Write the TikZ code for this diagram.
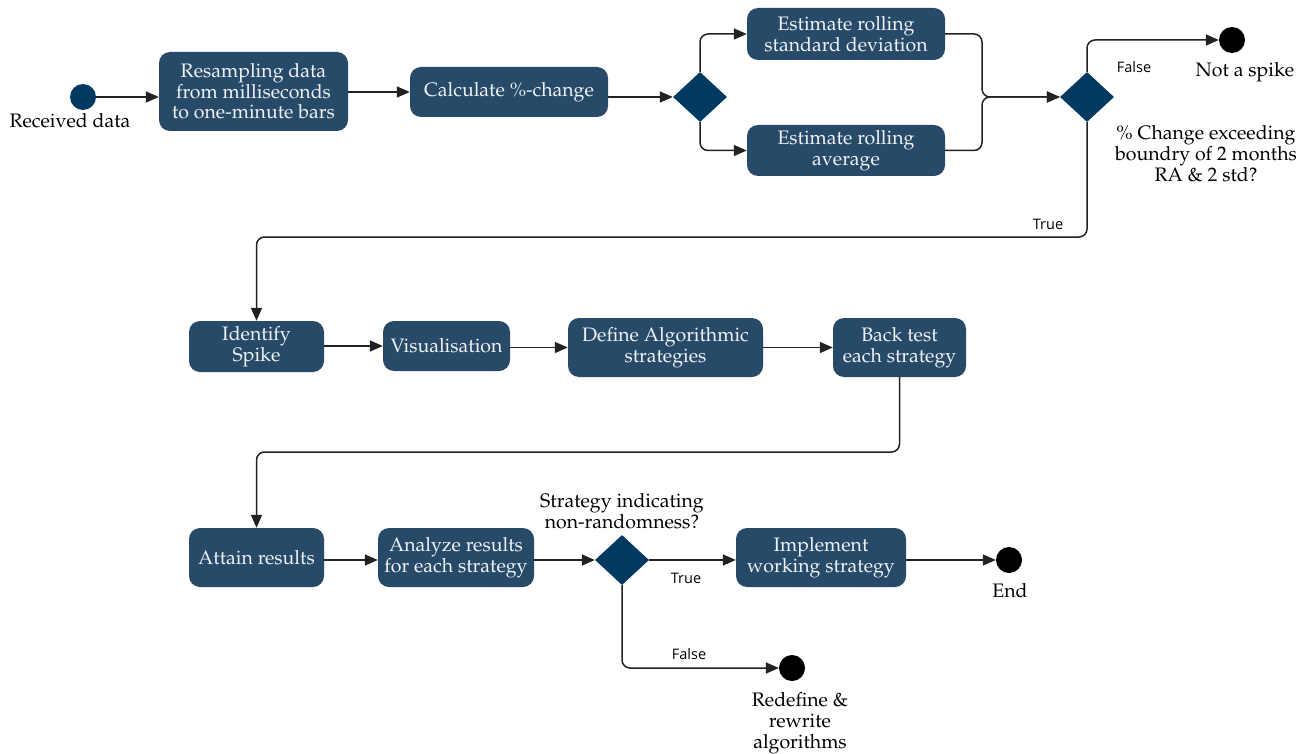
\documentclass[tikz,border=0pt]{standalone}
\usepackage[T1]{fontenc}
\usepackage{fontspec}
\usetikzlibrary{arrows.meta,shapes.geometric,calc}
\newfontfamily\lblfont{Open Sans}
\newcommand\palfont{\fontencoding{T1}\fontfamily{ppl}\selectfont}
\definecolor{boxblue}{HTML}{284A69}
\definecolor{diablue}{HTML}{003A63}
\definecolor{boxtext}{HTML}{EEF2F6}
\definecolor{linec}{HTML}{222222}
\tikzset{
  act/.style={rectangle, rounded corners=11pt, fill=boxblue, text=boxtext, align=center,
    inner sep=2pt, font=\palfont\fontsize{19.5}{20.5}\selectfont},
  dec/.style={diamond, fill=diablue, inner sep=0pt, minimum width=54pt, minimum height=50pt},
  startdot/.style={circle, fill=diablue, inner sep=0pt, minimum size=26pt},
  enddot/.style={circle, fill=black, inner sep=0pt, minimum size=26pt},
  txt/.style={align=center, font=\palfont\fontsize{19.5}{21}\selectfont, inner sep=0pt},
  lbl/.style={font=\lblfont\fontsize{14.5}{16}\selectfont, inner sep=0pt},
  conn/.style={draw=linec, line width=1.5pt, -{Triangle[length=13pt,width=11pt]}, rounded corners=8pt},
}
\begin{document}
\begin{tikzpicture}[x=1pt,y=-1pt]
\useasboundingbox (0,0) rectangle (1313,754);
% row 1
\node[startdot] (start) at (83,97) {};
\node[txt] (rcv) at (70,121) {Received data};
\node[act, minimum width=189pt, minimum height=79pt] (resamp) at (253.5,91.5) {Resampling data\\from milliseconds\\to one-minute bars};
\node[act, minimum width=198pt, minimum height=50pt] (calc) at (509,92) {Calculate \%-change};
\node[dec] (d1) at (700,97) {};
\node[act, minimum width=198pt, minimum height=52pt] (std) at (846,34) {Estimate rolling\\standard deviation};
\node[act, minimum width=198pt, minimum height=51pt] (avg) at (846,150.5) {Estimate rolling\\average};
\coordinate (join) at (982,97);
\node[dec] (d2) at (1087,97) {};
\node[enddot] (nospike) at (1232,40) {};
\node[txt] (nstxt) at (1245,72) {Not a spike};
\node[txt] (q1) at (1206,154) {\% Change exceeding\\boundry of 2 months\\RA \& 2 std?};
\node[lbl] (f1) at (1134,67) {False};
\node[lbl] (t1) at (1048,224) {True};
\coordinate (r1) at (0,237);
% row 2
\node[act, minimum width=135pt, minimum height=51pt] (ident) at (256.5,346.5) {Identify\\Spike};
\node[act, minimum width=127pt, minimum height=50pt] (vis) at (446.5,346) {Visualisation};
\node[act, minimum width=195pt, minimum height=59pt] (def) at (665.5,347.5) {Define Algorithmic\\strategies};
\node[act, minimum width=133pt, minimum height=59pt] (back) at (899.5,347.5) {Back test\\each strategy};
\coordinate (r2) at (0,452);
% row 3
\node[act, minimum width=135pt, minimum height=59pt] (attain) at (256.5,557.5) {Attain results};
\node[act, minimum width=156pt, minimum height=59pt] (anal) at (456,557.5) {Analyze results\\for each strategy};
\node[dec] (d3) at (622,560) {};
\node[txt] (q2) at (622,511) {Strategy indicating\\non-randomness?};
\node[act, minimum width=170pt, minimum height=59pt] (impl) at (821,557.5) {Implement\\working strategy};
\node[enddot] (end) at (1009,560) {};
\node[txt] (endtxt) at (1010,590) {End};
\node[lbl] (t3) at (686,578) {True};
\node[lbl] (f3) at (689,654) {False};
\node[enddot] (redef) at (792,668) {};
\node[txt] (redeftxt) at (800,723) {Redefine \&\\rewrite\\algorithms};
% connectors
\draw[conn] (start) -- (start -| resamp.west);
\draw[conn] (resamp.east |- calc) -- (calc.west);
\draw[conn] (calc.east |- d1) -- (d1.west);
\draw[conn] (d1.north) |- (std.west);
\draw[conn] (d1.south) |- (avg.west);
\draw[conn] (std.east) -| (join) -- (d2.west);
\draw[conn] (avg.east) -| (join) -- (d2.west);
\draw[conn] (d2.north) |- (nospike.west);
\draw[conn] (d2.south) -- (d2.south |- r1) -| (ident.north);
\draw[conn] (ident.east |- vis) -- (vis.west);
\draw[conn] (vis.east |- def) -- (def.west);
\draw[conn] (def.east |- back) -- (back.west);
\draw[conn] (back.south) -- (back.south |- r2) -| (attain.north);
\draw[conn] (attain.east |- d3) -- (anal.west |- d3);
\draw[conn] (anal.east |- d3) -- (d3.west);
\draw[conn] (d3.east) -- (d3 -| impl.west);
\draw[conn] (impl.east |- end) -- (end.west);
\draw[conn] (d3.south) |- (redef.west);
\end{tikzpicture}
\end{document}
